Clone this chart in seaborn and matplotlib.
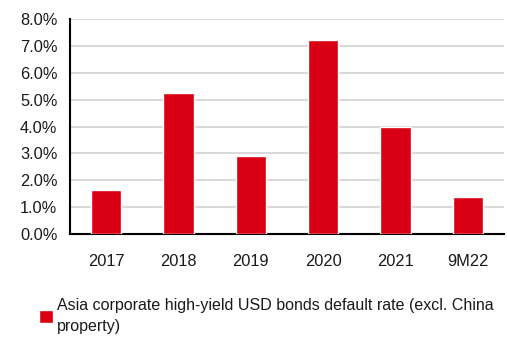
import matplotlib
matplotlib.use("Agg")
import matplotlib.pyplot as plt
import seaborn as sns
import pandas as pd
from matplotlib.ticker import FuncFormatter

periods = ["2017", "2018", "2019", "2020", "2021", "9M22"]
default_rate = [1.64, 5.26, 2.92, 7.21, 4.00, 1.37]
series_name = "Asia corporate high-yield USD bonds default rate (excl. China\nproperty)"

df = pd.DataFrame({"period": periods, "rate": default_rate, "series": series_name})

sns.set_theme(style="white")
plt.rcParams["font.family"] = ["Liberation Sans", "DejaVu Sans"]

fig = plt.figure(figsize=(5.07, 3.38), dpi=100)
ax = fig.add_axes([0.138, 0.307, 0.856, 0.637])

red = "#DA0013"
sns.barplot(data=df, x="period", y="rate", hue="series", palette=[red],
            width=0.42, saturation=1, ax=ax, legend=True, zorder=3)

fs = 11.8
ax.set_ylim(0, 8)
ax.set_yticks(range(0, 9))
ax.yaxis.set_major_formatter(FuncFormatter(lambda v, _: f"{v:.1f}%"))
ax.set_xlim(-0.5, 5.5)
ax.set_xticks([x - 0.5 for x in range(7)], minor=True)
ax.tick_params(axis="x", which="major", length=0, labelsize=fs, pad=14, labelcolor="#1a1a1a")
ax.tick_params(axis="x", which="minor", length=5, width=1.3, color="black", direction="out")
ax.tick_params(axis="y", length=6, width=1.3, color="black", direction="out",
               labelsize=fs, pad=3, labelcolor="#1a1a1a")
ax.set_xlabel("")
ax.set_ylabel("")

ax.grid(axis="y", color="#d9d9d9", linewidth=1.5, zorder=0)
ax.set_axisbelow(True)
for side in ["top", "right"]:
    ax.spines[side].set_visible(False)
for side in ["left", "bottom"]:
    ax.spines[side].set_color("black")
    ax.spines[side].set_linewidth(1.5)

handles, labels = ax.get_legend_handles_labels()
ax.get_legend().remove()
leg = fig.legend(handles, labels, loc="upper left", bbox_to_anchor=(0.077, 0.118),
                 frameon=False, fontsize=11.5, handlelength=0.85, handleheight=0.85,
                 handletextpad=0.25, borderpad=0, borderaxespad=0)
for t in leg.get_texts():
    t.set_linespacing(1.5)
    t.set_color("#1a1a1a")

fig.savefig("out.png", dpi=100)
